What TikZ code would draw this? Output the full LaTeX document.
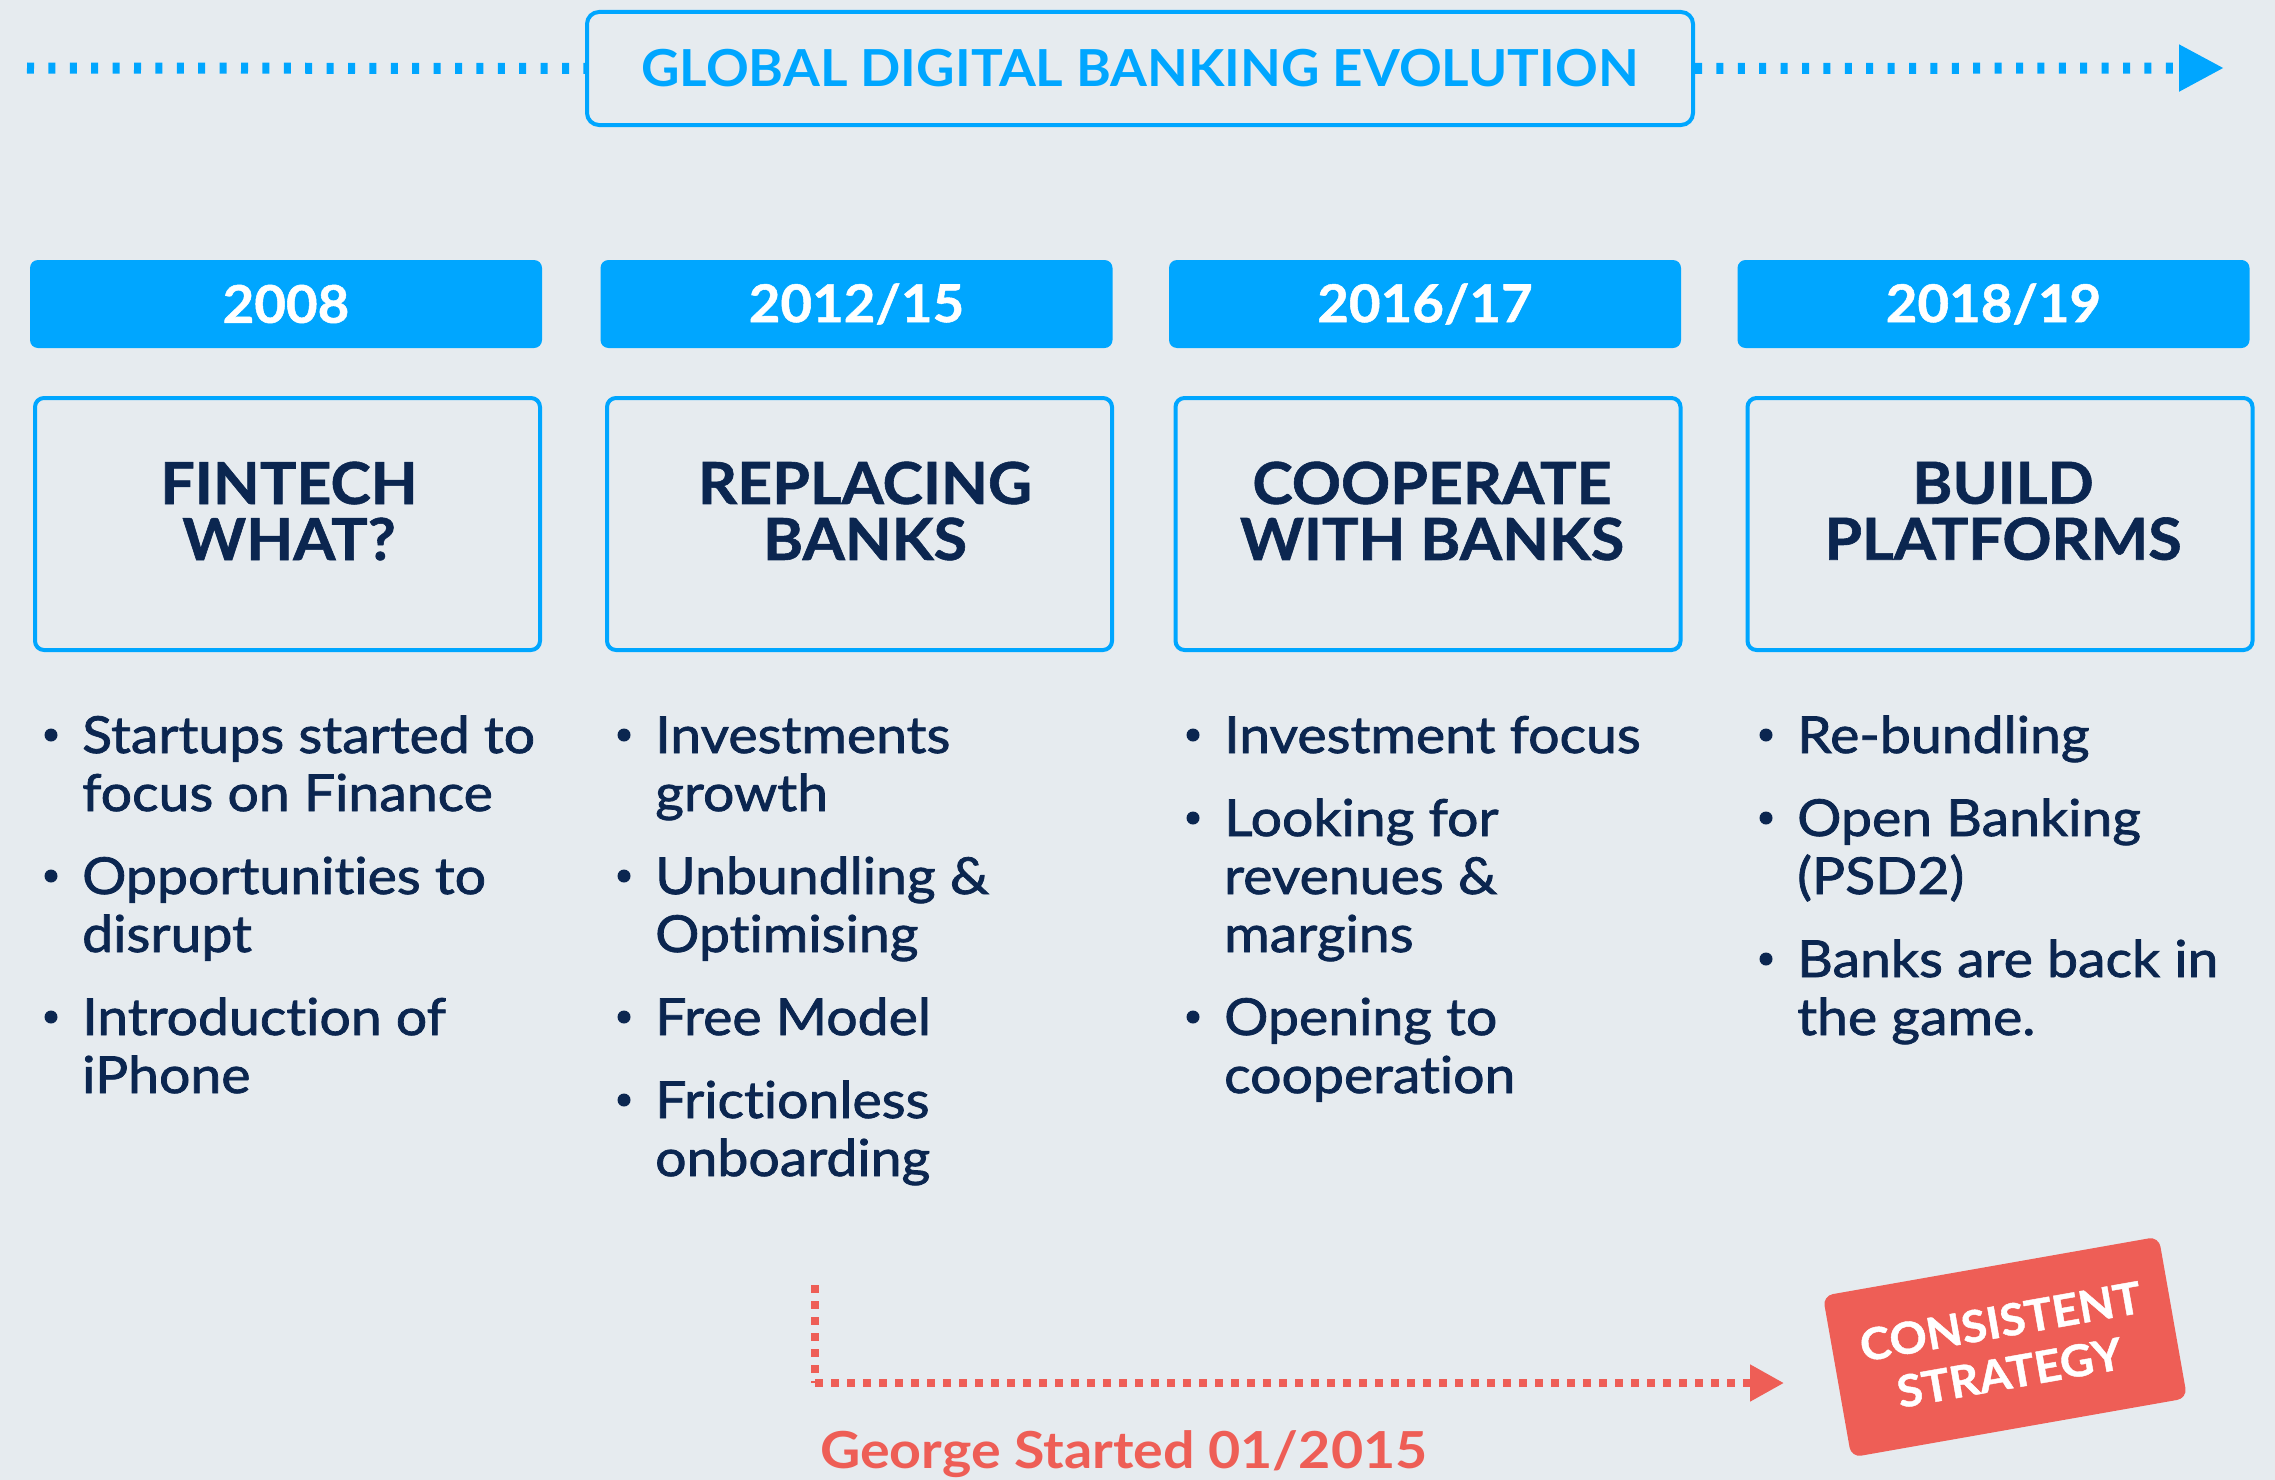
\documentclass[tikz,border=0pt]{standalone}
\usepackage{fontspec}
\setmainfont{Lato}
\newfontfamily\lato[FakeStretch=1.05, FakeBold=1]{Lato}
\newfontfamily\latotitle[FakeStretch=1.04]{Lato}
\newfontfamily\latowide[FakeStretch=1.09]{Lato}
\newfontfamily\latobody[FakeStretch=1.085, FakeBold=1.5, Ligatures=NoCommon]{Lato}
\usetikzlibrary{arrows.meta}
\definecolor{bgcol}{HTML}{E6EBEF}
\definecolor{skyblue}{HTML}{00A6FF}
\definecolor{navy}{HTML}{0B2650}
\definecolor{coral}{HTML}{EE5E56}
\tikzset{
  yearbox/.style={fill=skyblue, rounded corners=8pt, minimum width=512pt, minimum height=88pt,
    inner sep=0pt, text=white, font=\lato\bfseries\fontsize{52}{60}\selectfont},
  phasebox/.style={draw=skyblue, line width=4pt, rounded corners=9pt, minimum width=505pt,
    minimum height=252pt, inner sep=0pt},
  phasetitle/.style={text=navy, align=center, inner sep=0pt,
    font=\lato\bfseries\fontsize{58}{56}\selectfont},
  bodyline/.style={text=navy, anchor=base west, inner sep=0pt,
    font=\latobody\fontsize{51}{58}\selectfont},
  bluedots/.style={draw=skyblue, line width=11pt, dash pattern=on 7pt off 14.4pt},
  reddots/.style={draw=coral, line width=8pt, dash pattern=on 8pt off 8pt},
}
\begin{document}
\begin{tikzpicture}[x=1pt,y=-1pt]
\fill[bgcol] (0,0) rectangle (2275,1480);
\useasboundingbox (0,0) rectangle (2275,1480);

% headline with the timeline arrow running through it
\node[draw=skyblue, line width=4pt, rounded corners=12pt, minimum width=1106pt, minimum height=113pt,
  inner sep=0pt, text=skyblue, font=\latotitle\bfseries\fontsize{51}{60}\selectfont]
  (headline) at (1140,68.5) {GLOBAL DIGITAL BANKING EVOLUTION};
\coordinate (lineStart) at (27,68);
\coordinate (lineEnd) at (2224,68);
\draw[bluedots] (lineStart) -- (headline.west);
\draw[bluedots, -{Triangle[length=45pt,width=44pt]}] (headline.east) -- (lineEnd);

% year tabs
\node[yearbox] (y1) at (286,304) {2008};
\node[yearbox] (y2) at (856.5,304) {2012/15};
\node[yearbox] (y3) at (1425,304) {2016/17};
\node[yearbox] (y4) at (1993.5,304) {2018/19};

% phase boxes
\node[phasebox] (p1) at (287.5,524) {};
\node[phasebox] (p2) at (859.5,524) {};
\node[phasebox] (p3) at (1428,524) {};
\node[phasebox] (p4) at (2000,524) {};
\node[phasetitle] (t1) at (289,511) {FINTECH\\WHAT?};
\node[phasetitle] (t2) at (865,511) {REPLACING\\BANKS};
\node[phasetitle] (t3) at (1432,511) {COOPERATE\\WITH BANKS};
\node[phasetitle] (t4) at (2003,511) {BUILD\\PLATFORMS};

% bullet lists
\foreach \yy/\txt/\bul [count=\i] in {753/Startups started to/1, 811/focus on Finance/0,
    894/Opportunities to/1, 952/disrupt/0, 1035/Introduction of/1, 1093/iPhone/0} {
  \node[bodyline] (a\i) at (82,\yy) {\txt};
  \ifnum\bul=1 \fill[navy] (51,\yy-18) circle (6.5pt); \fi
}
\foreach \yy/\txt/\bul [count=\i] in {753/Investments/1, 811/growth/0,
    894/Unbundling \&/1, 952/Optimising/0, 1035/Free Model/1, 1118/Frictionless/1, 1176/onboarding/0} {
  \node[bodyline] (b\i) at (655,\yy) {\txt};
  \ifnum\bul=1 \fill[navy] (624,\yy-18) circle (6.5pt); \fi
}
\foreach \yy/\txt/\bul [count=\i] in {753/Investment focus/1, 836/Looking for/1,
    894/revenues \&/0, 952/margins/0, 1035/Opening to/1, 1093/cooperation/0} {
  \node[bodyline] (c\i) at (1224,\yy) {\txt};
  \ifnum\bul=1 \fill[navy] (1193,\yy-18) circle (6.5pt); \fi
}
\foreach \yy/\txt/\bul [count=\i] in {753/Re-bundling/1, 836/Open Banking/1,
    894/(PSD2)/0, 977/Banks are back in/1, 1035/the game./0} {
  \node[bodyline] (d\i) at (1797,\yy) {\txt};
  \ifnum\bul=1 \fill[navy] (1766,\yy-18) circle (6.5pt); \fi
}

% strategy badge and the arrow leading to it
\node[fill=coral, rounded corners=10pt, rotate=10, minimum width=341pt, minimum height=164pt,
  inner sep=0pt, align=center, text=white, font=\lato\bfseries\fontsize{44}{52}\selectfont]
  (strategy) at (2005,1347) {CONSISTENT\\STRATEGY};
\coordinate (gStart) at (815,1285);
\coordinate (gCorner) at (815,1383);
\coordinate (gEnd) at (1784,1383);
\draw[reddots] (gStart) -- (gCorner);
\draw[reddots, -{Triangle[length=34pt,width=35pt]}] (gCorner) -- (gEnd);
\node[anchor=base west, inner sep=0pt, text=coral, font=\latowide\bfseries\fontsize{51}{57}\selectfont]
  (george) at (820,1468) {George Started 01/2015};
\end{tikzpicture}
\end{document}
